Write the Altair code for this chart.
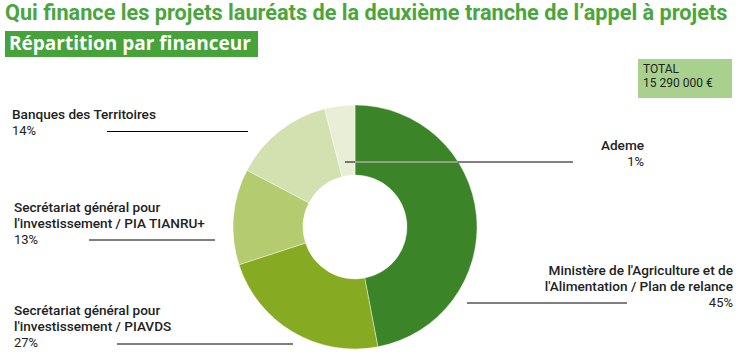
import altair as alt
import pandas as pd

# ---- data ----
financeurs = [
    "Ministère de l'Agriculture et de l'Alimentation / Plan de relance",
    "Secrétariat général pour l'investissement / PIAVDS",
    "Secrétariat général pour l'investissement / PIA TIANRU+",
    "Banques des Territoires",
    "Ademe",
]
# slice sizes as drawn in the reference
parts = [47, 23, 12.7, 13.3, 4]
# printed percentages
pourcentages = ["45%", "27%", "13%", "14%", "1%"]
label_lignes = [
    ["Ministère de l'Agriculture et de", "l'Alimentation / Plan de relance"],
    ["Secrétariat général pour", "l'investissement / PIAVDS"],
    ["Secrétariat général pour", "l'investissement / PIA TIANRU+"],
    ["Banques des Territoires"],
    ["Ademe"],
]
couleurs = ["#3b8427", "#86ab22", "#b4cb70", "#d3e1b0", "#e8efd6"]
titre = "Qui finance les projets lauréats de la deuxième tranche de l’appel à projets"
sous_titre = "Répartition par financeur"
total_lignes = ["TOTAL", "15 290 000 €"]

# ---- layout ----
CX, CY = 355, 227
LABEL_FONT = "Roboto"
TXT = "#222222"

df = pd.DataFrame({"financeur": financeurs, "part": parts, "ordre": list(range(len(parts)))})

arc = alt.Chart(df).mark_arc(outerRadius=122, innerRadius=52, stroke="#ffffff", strokeWidth=0.4).encode(
    theta=alt.Theta("part:Q", stack=True),
    order=alt.Order("ordre:Q"),
    color=alt.Color("financeur:N", scale=alt.Scale(domain=financeurs, range=couleurs), legend=None),
    x=alt.value(CX),
    y=alt.value(CY),
)

one = pd.DataFrame({"a": [0]})
layers = [arc]


def rule(x1, x2, y, color="#000000", w=1):
    return alt.Chart(one).mark_rule(color=color, strokeWidth=w).encode(
        x=alt.value(x1), x2=alt.value(x2), y=alt.value(y))


def rect(x1, x2, y1, y2, color):
    return alt.Chart(one).mark_rect(color=color).encode(
        x=alt.value(x1), x2=alt.value(x2), y=alt.value(y1), y2=alt.value(y2))


def text(s, x, y, align="left", size=13, weight="normal", color=TXT, font=LABEL_FONT):
    return alt.Chart(one).mark_text(
        align=align, baseline="middle", fontSize=size, fontWeight=weight, color=color, font=font
    ).encode(x=alt.value(x), y=alt.value(y), text=alt.value(s))


# leader lines
layers += [
    rule(467, 627, 303),          # Ministère
    rule(117, 293, 344),          # PIAVDS
    rule(89, 215, 240),           # TIANRU+
    rule(107, 248, 131.5),        # Banques
    rule(345, 573, 162),          # Ademe
    rule(355, 458, 162, "#ffffff"),
]

# labels: (x, align, y of lines..., y of pct)
label_pos = [
    (733, "right", [271, 287], 303),
    (14, "left", [311, 327], 343),
    (14, "left", [208, 224], 240),
    (12, "left", [115], 131),
    (644, "right", [146], 162),
]
for lignes, pct, (x, al, ys, yp) in zip(label_lignes, pourcentages, label_pos):
    for s, yy in zip(lignes, ys):
        layers.append(text(s, x, yy, align=al, size=13.6, weight=500))
    layers.append(text(pct, x, yp, align=al))

# title and banner
layers.append(text(titre, 5, 13, size=21.7, weight="bold", color="#4aa63c", font="Roboto"))
layers.append(rect(5, 258, 31, 57, "#45a33a"))
layers.append(text(sous_titre, 9, 44, size=19, weight="bold", color="#ffffff", font="Open Sans"))

# total box
layers.append(rect(638, 732, 59, 98, "#a9d18e"))
layers.append(text(total_lignes[0], 643, 69, size=12))
layers.append(text(total_lignes[1], 643, 83, size=12))

chart = alt.layer(*layers).properties(
    width=742, height=357, padding=0, autosize=alt.AutoSizeParams(type="none"),
    background="#ffffff",
).configure_view(stroke=None)

chart.save("out.html", embed_options={"renderer": "svg", "actions": False})
